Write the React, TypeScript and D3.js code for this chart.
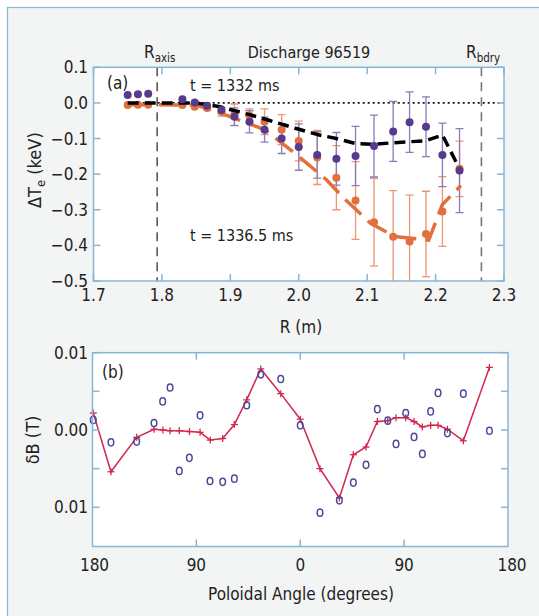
import React from "react";
import * as d3 from "d3";

// ---------- Panel (a) data ----------
const rPos = [1.75, 1.765, 1.78, 1.83, 1.848, 1.866, 1.887, 1.906, 1.928, 1.95, 1.975, 2.0, 2.027, 2.055, 2.083, 2.11, 2.138, 2.162, 2.186, 2.21, 2.235];
const te1332 = [0.022, 0.024, 0.026, 0.010, 0.001, -0.008, -0.02, -0.039, -0.053, -0.075, -0.1, -0.124, -0.146, -0.157, -0.149, -0.121, -0.080, -0.054, -0.067, -0.146, -0.190];
const err1332 = [0, 0, 0, 0, 0, 0, 0.008, 0.025, 0.031, 0.035, 0.042, 0.065, 0.065, 0.074, 0.083, 0.087, 0.084, 0.085, 0.084, 0.089, 0.118];
const te13365 = [-0.006, -0.005, -0.005, -0.006, -0.011, -0.014, -0.025, -0.033, -0.036, -0.053, -0.075, -0.107, -0.153, -0.210, -0.274, -0.335, -0.376, -0.389, -0.368, -0.305, -0.185];
const err13365 = [0, 0, 0, 0, 0, 0.006, 0.012, 0.03, 0.019, 0.036, 0.042, 0.056, 0.076, 0.09, 0.109, 0.123, 0.13, 0.13, 0.12, 0.098, 0.078];
const fit1332R = [1.75, 1.85, 1.885, 1.93, 1.955, 2.0, 2.03, 2.055, 2.083, 2.11, 2.137, 2.162, 2.186, 2.21, 2.235];
const fit1332V = [0.0, 0.0, -0.011, -0.034, -0.048, -0.074, -0.09, -0.1, -0.114, -0.116, -0.112, -0.109, -0.106, -0.09, -0.185];
const fit13365R = [1.75, 1.85, 1.885, 1.95, 2.0, 2.04, 2.07, 2.105, 2.14, 2.19, 2.21, 2.237];
const fit13365V = [-0.005, -0.006, -0.028, -0.075, -0.15, -0.215, -0.275, -0.338, -0.375, -0.385, -0.285, -0.232];
const rAxis = 1.793;
const rBdry = 2.267;
const xTicksA = [1.7, 1.8, 1.9, 2.0, 2.1, 2.2, 2.3];
const yTicksA = [0.1, 0.0, -0.1, -0.2, -0.3, -0.4, -0.5];

// ---------- Panel (b) data ----------
const modelAngle = [-179.3, -164, -141.7, -126.7, -119, -112.8, -104.8, -96, -86.8, -78, -67.2, -57.1, -46.4, -34.2, -16.9, 0, 17.1, 33.9, 46, 57, 66.8, 75.8, 83, 91.4, 98.6, 105.8, 113, 119.4, 127.5, 141.3, 163.9];
const modelB = [0.0022, -0.0054, -0.00095, 0.0001, 0.0, -0.0001, -0.0001, -0.0002, -0.0003, -0.0013, -0.0011, 0.0007, 0.0039, 0.0079, 0.0047, 0.0014, -0.005, -0.0088, -0.0032, -0.0022, 0.0011, 0.0012, 0.0016, 0.0016, 0.0011, 0.0004, 0.0006, 0.0006, 0.0001, -0.0014, 0.0081];
const measAngle = [-179.3, -164, -141.7, -126.7, -119.2, -112.8, -104.8, -96.1, -86.8, -78.2, -67.2, -57.1, -46.4, -34.2, -16.9, 0, 17.1, 33.9, 46, 57, 66.8, 75.8, 83, 91.4, 98.6, 105.8, 113, 119.4, 127.5, 141.3, 163.9];
const measB = [0.0013, -0.0016, -0.0015, 0.0009, 0.0037, 0.0055, -0.0053, -0.0036, 0.0019, -0.0066, -0.0067, -0.0063, 0.0032, 0.0072, 0.0066, 0.0006, -0.0107, -0.0091, -0.0068, -0.0045, 0.0027, 0.0012, -0.0018, 0.0022, -0.0009, -0.0031, 0.0024, 0.0048, -0.0004, 0.0047, -0.0001];
const xTicksB = [-180, -90, 0, 90, 180];
const yTicksB = [0.01, 0.005, 0, -0.005, -0.01];
const yLabelsB = [0.01, 0, -0.01];

const FONT = "'Liberation Sans Narrow', 'DejaVu Sans Condensed', 'Roboto Condensed', Roboto, sans-serif";
const AXIS = "#86b6d6";
const PURPLE = "#553a8e";
const PURPLE_BAR = "#8d7bb8";
const ORANGE = "#e2703f";
const ORANGE_BAR = "#ec9672";
const RED = "#d2284e";
const CIRC = "#4d4899";

export default function App() {
  // Panel a
  const ax = d3.scaleLinear().domain([1.7, 2.3]).range([93.5, 504]);
  const ay = d3.scaleLinear().domain([0.1, -0.5]).range([67.3, 281]);
  // Panel b
  const bx = d3.scaleLinear().domain([-180, 180]).range([92.5, 508]);
  const by = d3.scaleLinear().domain([0.01, -0.01]).range([352.7, 507.3]);
  const bBottom = 546.5;

  const line = d3.line<[number, number]>();
  const fit1 = line(fit1332R.map((r, i) => [ax(r), ay(fit1332V[i])]))!;
  const fit2 = line(fit13365R.map((r, i) => [ax(r), ay(fit13365V[i])]))!;
  const modelPath = line(modelAngle.map((a, i) => [bx(a), by(modelB[i])]))!;

  const [ax0, ax1] = ax.range();
  const [ay0, ay1] = ay.range();
  const [bx0, bx1] = bx.range();
  const by0 = by(0.01);

  const tick = 7;
  const errBars = (vals: number[], errs: number[], color: string, key: string) =>
    rPos.map((r, i) => {
      if (!errs[i]) return null;
      const x = ax(r);
      const y1 = ay(vals[i] + errs[i]);
      const y2 = ay(vals[i] - errs[i]);
      return (
        <g key={key + i} stroke={color} strokeWidth={1.3}>
          <line x1={x} x2={x} y1={y1} y2={y2} />
          <line x1={x - 4} x2={x + 4} y1={y1} y2={y1} />
          <line x1={x - 4} x2={x + 4} y1={y2} y2={y2} />
        </g>
      );
    });

  return (
    <svg width={539} height={616} style={{ position: "absolute", left: 0, top: 0 }} fontFamily={FONT}>
      <defs>
        <clipPath id="clipA">
          <rect x={ax0} y={ay0} width={ax1 - ax0} height={ay1 - ay0} />
        </clipPath>
      </defs>
      <rect x={0} y={0} width={539} height={616} fill="#ffffff" />
      <rect x={7.5} y={7.5} width={540} height={620} fill="#f3f4f4" stroke={AXIS} strokeWidth={1.2} />

      {/* Header */}
      <text x={144} y={58} fontSize={17} fill="#222">
        R<tspan fontSize={11.5} dy={4}>axis</tspan>
      </text>
      <text x={309} y={58} fontSize={16} fill="#222" textAnchor="middle">Discharge 96519</text>
      <text x={466} y={58} fontSize={17} fill="#222">
        R<tspan fontSize={11.5} dy={4}>bdry</tspan>
      </text>

      {/* Panel a */}
      <rect x={ax0} y={ay0} width={ax1 - ax0} height={ay1 - ay0} fill="#fff" />
      <line x1={ax(1.75)} x2={ax1} y1={ay(0)} y2={ay(0)} stroke="#111" strokeWidth={1.6} strokeDasharray="2,3" />
      <line x1={ax(rAxis)} x2={ax(rAxis)} y1={ay0} y2={ay1} stroke="#222" strokeWidth={1.2} strokeDasharray="9,6" />
      <line x1={ax(rBdry)} x2={ax(rBdry)} y1={ay0} y2={ay1} stroke="#777" strokeWidth={1.6} strokeDasharray="9,6" />
      <g clipPath="url(#clipA)">
        {errBars(te13365, err13365, ORANGE_BAR, "eo")}
        {errBars(te1332, err1332, PURPLE_BAR, "ep")}
        <path d={fit2} fill="none" stroke={ORANGE} strokeWidth={3.5} strokeDasharray="22,9" />
        {rPos.map((r, i) => (
          <circle key={"o" + i} cx={ax(r)} cy={ay(te13365[i])} r={4} fill={ORANGE} />
        ))}
        <path d={fit1} fill="none" stroke="#000" strokeWidth={3.5} strokeDasharray="11,6" />
        {rPos.map((r, i) => (
          <circle key={"p" + i} cx={ax(r)} cy={ay(te1332[i])} r={4} fill={PURPLE} />
        ))}
      </g>
      <rect x={ax0} y={ay0} width={ax1 - ax0} height={ay1 - ay0} fill="none" stroke={AXIS} strokeWidth={1.5} />
      {xTicksA.map((t) => (
        <g key={"xa" + t} stroke={AXIS} strokeWidth={1.5}>
          <line x1={ax(t)} x2={ax(t)} y1={ay1} y2={ay1 - tick} />
          <line x1={ax(t)} x2={ax(t)} y1={ay0} y2={ay0 + tick} />
        </g>
      ))}
      {yTicksA.map((t) => (
        <g key={"ya" + t} stroke={AXIS} strokeWidth={1.5}>
          <line x1={ax0} x2={ax0 + tick} y1={ay(t)} y2={ay(t)} />
          <line x1={ax1} x2={ax1 - tick} y1={ay(t)} y2={ay(t)} />
        </g>
      ))}
      {xTicksA.map((t) => (
        <text key={"xl" + t} x={ax(t)} y={301} fontSize={17} textAnchor="middle" fill="#222">{d3.format(".1f")(t)}</text>
      ))}
      {yTicksA.map((t) => (
        <text key={"yl" + t} x={88} y={ay(t) + 6} fontSize={17} textAnchor="end" fill="#222">
          {t < 0 ? "\u2212" + d3.format(".1f")(-t) : d3.format(".1f")(t)}
        </text>
      ))}
      <text x={301} y={333} fontSize={17} textAnchor="middle" fill="#222">R (m)</text>
      <text transform={`translate(41,${ay(-0.2) - 4}) rotate(-90)`} fontSize={18} textAnchor="middle" fill="#222">
        ΔT<tspan fontSize={13} dy={4}>e</tspan><tspan dy={-4}> (keV)</tspan>
      </text>
      <text x={107} y={89} fontSize={17} fill="#222">(a)</text>
      <text x={190} y={91} fontSize={16} fill="#222">t = 1332 ms</text>
      <text x={190} y={241} fontSize={16} fill="#222">t = 1336.5 ms</text>

      {/* Panel b */}
      <rect x={bx0} y={by0} width={bx1 - bx0} height={bBottom - by0} fill="#fff" />
      <path d={modelPath} fill="none" stroke={RED} strokeWidth={1.5} />
      {modelAngle.map((a, i) => {
        const x = bx(a);
        const y = by(modelB[i]);
        return (
          <g key={"m" + i} stroke={RED} strokeWidth={1.3}>
            <line x1={x - 3.5} x2={x + 3.5} y1={y} y2={y} />
            <line x1={x} x2={x} y1={y - 3.5} y2={y + 3.5} />
          </g>
        );
      })}
      {measAngle.map((a, i) => (
        <ellipse key={"c" + i} cx={bx(a)} cy={by(measB[i])} rx={2.8} ry={3.6} fill="none" stroke={CIRC} strokeWidth={1.5} />
      ))}
      <rect x={bx0} y={by0} width={bx1 - bx0} height={bBottom - by0} fill="none" stroke={AXIS} strokeWidth={1.5} />
      {xTicksB.slice(1, -1).map((t) => (
        <g key={"xb" + t} stroke={AXIS} strokeWidth={1.5}>
          <line x1={bx(t)} x2={bx(t)} y1={bBottom} y2={bBottom - tick} />
          <line x1={bx(t)} x2={bx(t)} y1={by0} y2={by0 + tick} />
        </g>
      ))}
      {yTicksB.map((t) => (
        <g key={"yb" + t} stroke={AXIS} strokeWidth={1.5}>
          <line x1={bx0} x2={bx0 + tick} y1={by(t)} y2={by(t)} />
          <line x1={bx1} x2={bx1 - tick} y1={by(t)} y2={by(t)} />
        </g>
      ))}
      {xTicksB.map((t) => (
        <text key={"xbl" + t} x={bx(t) + (t === 180 ? 4 : t === -180 ? 2 : 0)} y={571} fontSize={17} textAnchor="middle" fill="#222">
          {Math.abs(t)}
        </text>
      ))}
      {yLabelsB.map((t) => (
        <text key={"ybl" + t} x={88} y={by(t) + 6} fontSize={17} textAnchor="end" fill="#222">
          {d3.format(".2f")(Math.abs(t))}
        </text>
      ))}
      <text x={301} y={600} fontSize={17} textAnchor="middle" fill="#222">Poloidal Angle (degrees)</text>
      <text transform={`translate(39,440) rotate(-90)`} fontSize={18} textAnchor="middle" fill="#222">δB (T)</text>
      <text x={102} y={378} fontSize={17} fill="#222">(b)</text>
    </svg>
  );
}
